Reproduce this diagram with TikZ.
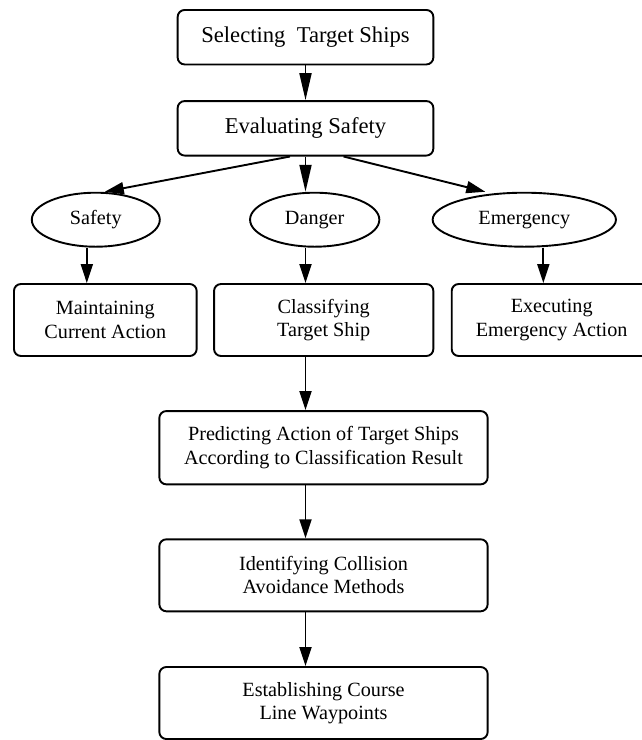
\documentclass[tikz,border=0pt]{standalone}
\usepackage{fontspec}
\setmainfont{Liberation Serif}
\usetikzlibrary{shapes.geometric}
\usetikzlibrary{arrows.meta}

\begin{document}
\begin{tikzpicture}[x=1pt,y=-1pt,
    procbox/.style={draw,rounded corners=7pt,inner sep=0pt,align=center,
        minimum height=72pt,font=\fontsize{20.2}{23.3}\selectfont},
    topbox/.style={procbox,minimum width=255.7pt,minimum height=54.5pt,
        font=\fontsize{22.6}{26}\selectfont},
    levelnode/.style={draw,ellipse,inner sep=0pt,minimum height=54pt,
        font=\fontsize{20.2}{23.3}\selectfont},
    flow/.style={-{Triangle[length=19pt,width=12pt]}},
    longflow/.style={-{Triangle[length=27pt,width=12pt]}}]
    \clip (0,0) rectangle (642,740);
    \begin{scope}[line width=1.9pt]
    % Top boxes:
    \node [topbox] (select)   at (305.5,37.2)  {Selecting\ \ Target Ships};
    \node [topbox] (evaluate) at (305.5,128.3) {Evaluating Safety};

    % Safety levels:
    \node [levelnode,minimum width=128pt]   (safety)    at (95.8,219.7)  {Safety};
    \node [levelnode,minimum width=129.3pt] (danger)    at (314.7,219.7) {Danger};
    \node [levelnode,minimum width=183.3pt] (emergency) at (524.3,219.7) {Emergency};

    % Actions for each level:
    \node [procbox,minimum width=182.7pt] (maintain) at (105.3,320) {Maintaining\\Current Action};
    \node [procbox,minimum width=219.3pt] (classify) at (323.7,320) {Classifying\\Target Ship};
    \node [procbox,minimum width=200pt]   (execute)  at (551.7,320) {Executing\\Emergency Action};

    % Lower chain:
    \node [procbox,minimum width=328.3pt,minimum height=73.3pt] (predict) at (323.5,447.7)
        {Predicting Action of Target Ships\\According to Classification Result};
    \node [procbox,minimum width=328.3pt] (identify)  at (323.5,575.3) {Identifying Collision\\Avoidance Methods};
    \node [procbox,minimum width=328.3pt] (establish) at (323.5,703)   {Establishing Course\\Line Waypoints};

    % Arrows:
    \draw [longflow] (select) -- (evaluate);
    \draw [flow] ([xshift=-15.5pt]evaluate.south) -- ([xshift=9pt]safety.north);
    \draw [longflow] (evaluate.south) -- (evaluate.south |- danger.north);
    \draw [flow] ([xshift=38pt]evaluate.south) -- ([xshift=-39pt]emergency.north);
    \draw [flow] ([xshift=-9pt]safety.south) -- ([xshift=-9pt]safety.south |- maintain.north);
    \draw [flow] (danger.south -| evaluate.south) -- (classify.north -| evaluate.south);
    \draw [flow] ([xshift=19pt]emergency.south) -- ([xshift=19pt]emergency.south |- execute.north);
    \draw [flow] (classify.south -| evaluate.south) -- (predict.north -| evaluate.south);
    \draw [flow] (predict.south -| evaluate.south) -- (identify.north -| evaluate.south);
    \draw [flow] (identify.south -| evaluate.south) -- (establish.north -| evaluate.south);
    \end{scope}
\end{tikzpicture}
\end{document}
